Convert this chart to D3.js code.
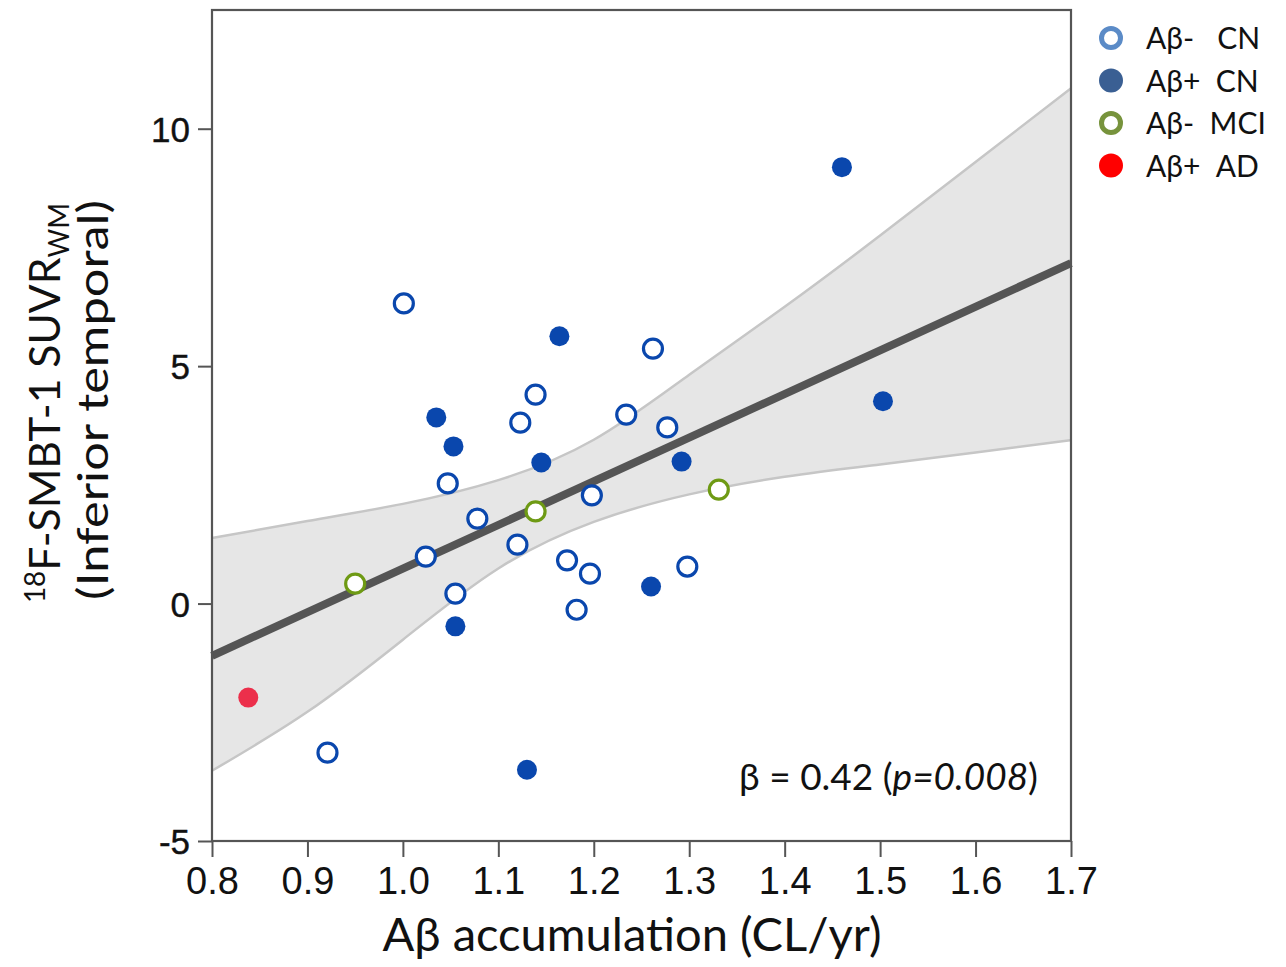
<!DOCTYPE html>
<html>
<head>
<meta charset="utf-8">
<script src="https://cdn.jsdelivr.net/npm/d3@7"></script>
<style>
  body { margin: 0; background: #fff; }
  svg text { fill: #111; }
</style>
</head>
<body>
<div id="chart"></div>
<script>
// data
const cnNegX = [1.001, 0.921, 1.024, 1.055, 1.047, 1.078, 1.120, 1.123, 1.139, 1.172, 1.182, 1.196, 1.198, 1.234, 1.262, 1.277, 1.298];
const cnNegY = [6.32, -3.14, 0.99, 0.21, 2.53, 1.79, 1.24, 3.81, 4.40, 0.91, -0.13, 0.63, 2.28, 3.98, 5.37, 3.71, 0.78];
const cnPosX = [1.035, 1.053, 1.055, 1.130, 1.145, 1.164, 1.260, 1.292, 1.460, 1.503];
const cnPosY = [3.92, 3.31, -0.48, -3.50, 2.97, 5.63, 0.36, 2.99, 9.19, 4.26];
const mciX = [0.950, 1.139, 1.331];
const mciY = [0.42, 1.94, 2.40];
const adX = [0.838];
const adY = [-1.98];

// regression line and confidence band
const fitX = [0.8, 1.7];
const fitY = [-1.10, 7.17];
const bandX = [0.8, 0.9, 1.0, 1.1, 1.2, 1.3, 1.4, 1.5, 1.6, 1.7];
const bandUpper = [1.38, 1.74, 2.10, 2.60, 3.45, 4.82, 6.25, 7.75, 9.30, 10.85];
const bandLower = [-3.52, -2.28, -0.76, 0.74, 1.72, 2.30, 2.67, 2.93, 3.18, 3.44];

const xTicks = [0.8, 0.9, 1.0, 1.1, 1.2, 1.3, 1.4, 1.5, 1.6, 1.7];
const yTicks = [-5, 0, 5, 10];

const legendLabels = ["Aβ-   CN", "Aβ+  CN", "Aβ-  MCI", "Aβ+  AD"];

const width = 1286, height = 967;
const plotLeft = 212, plotRight = 1071, plotTop = 10, plotBottom = 841;

const svg = d3.select("#chart").append("svg")
    .attr("width", width)
    .attr("height", height);

const x = d3.scaleLinear().domain([0.8, 1.7]).range([plotLeft, plotRight]);
const y = d3.scaleLinear().domain([-5, 12.5]).range([plotBottom, plotTop]);

const plot = svg.append("g");

// band
const band = bandX.map((d, i) => ({x: d, lo: bandLower[i], hi: bandUpper[i]}));
plot.append("path")
    .datum(band)
    .attr("fill", "#e6e6e6")
    .attr("d", d3.area().curve(d3.curveNatural)
        .x(d => x(d.x)).y0(d => y(d.lo)).y1(d => y(d.hi)));

["hi", "lo"].forEach(k => {
  plot.append("path")
      .datum(band)
      .attr("fill", "none")
      .attr("stroke", "#c6c6c6")
      .attr("stroke-width", 2.5)
      .attr("d", d3.line().curve(d3.curveNatural).x(d => x(d.x)).y(d => y(d[k])));
});

// fit line
plot.append("path")
    .datum(fitX.map((d, i) => [d, fitY[i]]))
    .attr("fill", "none")
    .attr("stroke", "#555")
    .attr("stroke-width", 8)
    .attr("d", d3.line().x(d => x(d[0])).y(d => y(d[1])));

// points
function drawPoints(xs, ys, filled, color) {
  plot.selectAll(null)
      .data(xs.map((d, i) => [d, ys[i]]))
      .enter().append("circle")
      .attr("cx", d => x(d[0]))
      .attr("cy", d => y(d[1]))
      .attr("r", filled ? 10 : 9.5)
      .attr("fill", filled ? color : "#fff")
      .attr("stroke", filled ? "none" : color)
      .attr("stroke-width", filled ? 0 : 3.2);
}
drawPoints(cnNegX, cnNegY, false, "#0a47ad");
drawPoints(cnPosX, cnPosY, true, "#0a47ad");
drawPoints(mciX, mciY, false, "#6e9a14");
drawPoints(adX, adY, true, "#ec2f4b");

// frame
svg.append("rect")
    .attr("x", plotLeft).attr("y", plotTop)
    .attr("width", plotRight - plotLeft).attr("height", plotBottom - plotTop)
    .attr("fill", "none")
    .attr("stroke", "#555")
    .attr("stroke-width", 2.2);

// axes
const xAxis = svg.append("g")
    .attr("transform", `translate(0,${plotBottom})`)
    .call(d3.axisBottom(x).tickValues(xTicks).tickFormat(d3.format(".1f")).tickSize(16).tickPadding(10));
xAxis.select(".domain").remove();
xAxis.selectAll("line").attr("stroke", "#555").attr("stroke-width", 2);
xAxis.selectAll("text")
    .attr("font-family", "'Liberation Sans Narrow', 'Arial Narrow', 'Liberation Sans', Arial, sans-serif")
    .attr("font-size", 38)
    .attr("fill", "#111");

const yAxis = svg.append("g")
    .attr("transform", `translate(${plotLeft},0)`)
    .call(d3.axisLeft(y).tickValues(yTicks).tickFormat(d => String(d)).tickSize(14).tickPadding(8));
yAxis.select(".domain").remove();
yAxis.selectAll("line").attr("stroke", "#555").attr("stroke-width", 2);
yAxis.selectAll("text")
    .attr("font-family", "'Liberation Sans', Arial, sans-serif")
    .attr("font-size", 35)
    .attr("fill", "#111")
    .attr("stroke", "#111")
    .attr("stroke-width", 0.4)
    .attr("dy", "0.36em");

// axis titles
svg.append("text")
    .attr("x", 632)
    .attr("y", 951)
    .attr("text-anchor", "middle")
    .attr("font-family", "Lato, 'Open Sans', sans-serif")
    .attr("font-size", 47)
    .attr("textLength", 499)
    .attr("lengthAdjust", "spacingAndGlyphs")
    .text("Aβ accumulation (CL/yr)");

const yt = svg.append("text")
    .attr("transform", "translate(60,403) rotate(-90)")
    .attr("text-anchor", "middle")
    .attr("font-family", "Lato, 'Open Sans', sans-serif")
    .attr("font-size", 43)
    .attr("textLength", 400)
    .attr("lengthAdjust", "spacingAndGlyphs");
yt.append("tspan").attr("font-size", 28).attr("dy", -15).text("18");
yt.append("tspan").attr("dy", 15).text("F-SMBT-1 SUVR");
yt.append("tspan").attr("font-size", 28).attr("dy", 9).text("WM");

svg.append("text")
    .attr("transform", "translate(108,400) rotate(-90)")
    .attr("text-anchor", "middle")
    .attr("font-family", "Lato, 'Open Sans', sans-serif")
    .attr("font-size", 43)
    .attr("textLength", 400)
    .attr("lengthAdjust", "spacingAndGlyphs")
    .text("(Inferior temporal)");

// annotation
const ann = svg.append("text")
    .attr("x", 1038).attr("y", 790)
    .attr("text-anchor", "end")
    .attr("font-family", "Lato, 'Open Sans', sans-serif")
    .attr("font-size", 37);
ann.append("tspan").text("β = 0.42 (");
ann.append("tspan").attr("font-style", "italic").text("p=0.008");
ann.append("tspan").text(")");

// legend
const legendColors = ["#5b8bc7", "#3a5f93", "#77933c", "#ff0000"];
const legendFilled = [false, true, false, true];
const lg = svg.append("g");
legendLabels.forEach((t, i) => {
  const cy = 38 + i * 42.5;
  lg.append("circle")
      .attr("cx", 1111).attr("cy", cy)
      .attr("r", legendFilled[i] ? 12 : 9.5)
      .attr("fill", legendFilled[i] ? legendColors[i] : "#fff")
      .attr("stroke", legendFilled[i] ? "none" : legendColors[i])
      .attr("stroke-width", 5);
  lg.append("text")
      .attr("x", 1146).attr("y", cy + 11)
      .attr("font-family", "Lato, 'Open Sans', sans-serif")
      .attr("font-size", 30)
      .attr("xml:space", "preserve")
      .style("white-space", "pre")
      .text(t);
});
</script>
</body>
</html>
